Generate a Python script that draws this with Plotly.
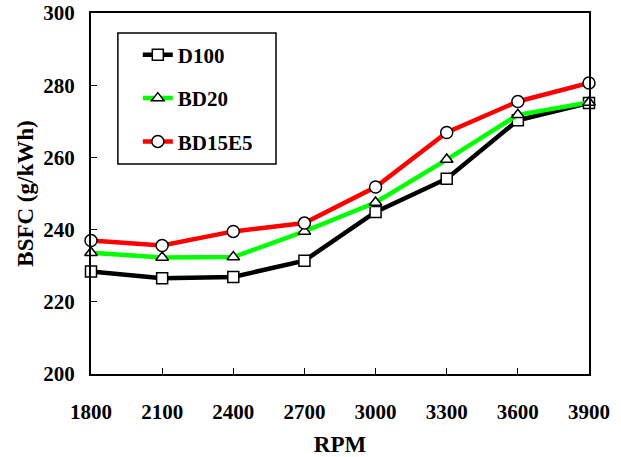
import plotly.graph_objects as go

rpm = [1800, 2100, 2400, 2700, 3000, 3300, 3600, 3900]
d100 = [228.4, 226.5, 226.9, 231.4, 244.9, 254.1, 270.3, 275.1]
bd20 = [233.6, 232.3, 232.4, 239.5, 247.5, 259.4, 271.8, 275.2]
bd15e5 = [237.0, 235.6, 239.5, 241.8, 251.8, 266.9, 275.5, 280.6]
y_ticks = [200, 220, 240, 260, 280, 300]

FONT = "Liberation Serif, Times New Roman, serif"

series = [
    ("D100", d100, "#000000", "square"),
    ("BD20", bd20, "#00FF00", "triangle-up"),
    ("BD15E5", bd15e5, "#FF0000", "circle"),
]

fig = go.Figure()
for name, vals, color, sym in series:
    fig.add_trace(go.Scatter(
        x=rpm, y=vals, name=name, mode="lines+markers",
        line=dict(color=color, width=4.5),
        marker=dict(symbol=sym, size=11 if sym != "circle" else 12,
                    color="white", line=dict(color="black", width=1.5)),
        cliponaxis=False, legendgroup=name,
    ))

fig.update_layout(
    width=621, height=457,
    margin=dict(l=91, r=32, t=13, b=83, autoexpand=False),
    paper_bgcolor="white", plot_bgcolor="white",
    font=dict(family=FONT, size=20, color="black"),
    showlegend=True,
    legend=dict(
        x=0.094, y=0.94, xanchor="left", yanchor="top",
        bgcolor="rgba(0,0,0,0)", borderwidth=0,
        traceorder="grouped", tracegroupgap=13,
        font=dict(family=FONT, size=21, color="black", weight="bold"),
    ),
    shapes=[dict(type="rect", xref="paper", yref="paper",
                 x0=0.054, x1=0.3715, y0=0.5817, y1=0.9446,
                 line=dict(color="black", width=1.5))],
)

fig.update_xaxes(
    range=[1800, 3900], tickvals=rpm, ticktext=[str(v) for v in rpm],
    ticks="inside", ticklen=6, tickwidth=1, tickcolor="black",
    showline=True, linecolor="black", linewidth=2, mirror=True,
    showgrid=False, zeroline=False, automargin=False,
    ticklabelstandoff=18,
    tickfont=dict(family=FONT, size=21, color="black", weight="bold"),
    title=dict(text="RPM", standoff=18,
               font=dict(family=FONT, size=23, color="black", weight="bold")),
)
fig.update_yaxes(
    range=[200, 300], tickvals=y_ticks,
    ticks="inside", ticklen=6, tickwidth=1, tickcolor="black",
    showline=True, linecolor="black", linewidth=2, mirror=True,
    showgrid=False, zeroline=False, automargin=False,
    ticklabelstandoff=10,
    tickfont=dict(family=FONT, size=21, color="black", weight="bold"),
    title=dict(text="BSFC (g/kWh)", standoff=3,
               font=dict(family=FONT, size=23, color="black", weight="bold")),
)

fig.write_html("out.html")
